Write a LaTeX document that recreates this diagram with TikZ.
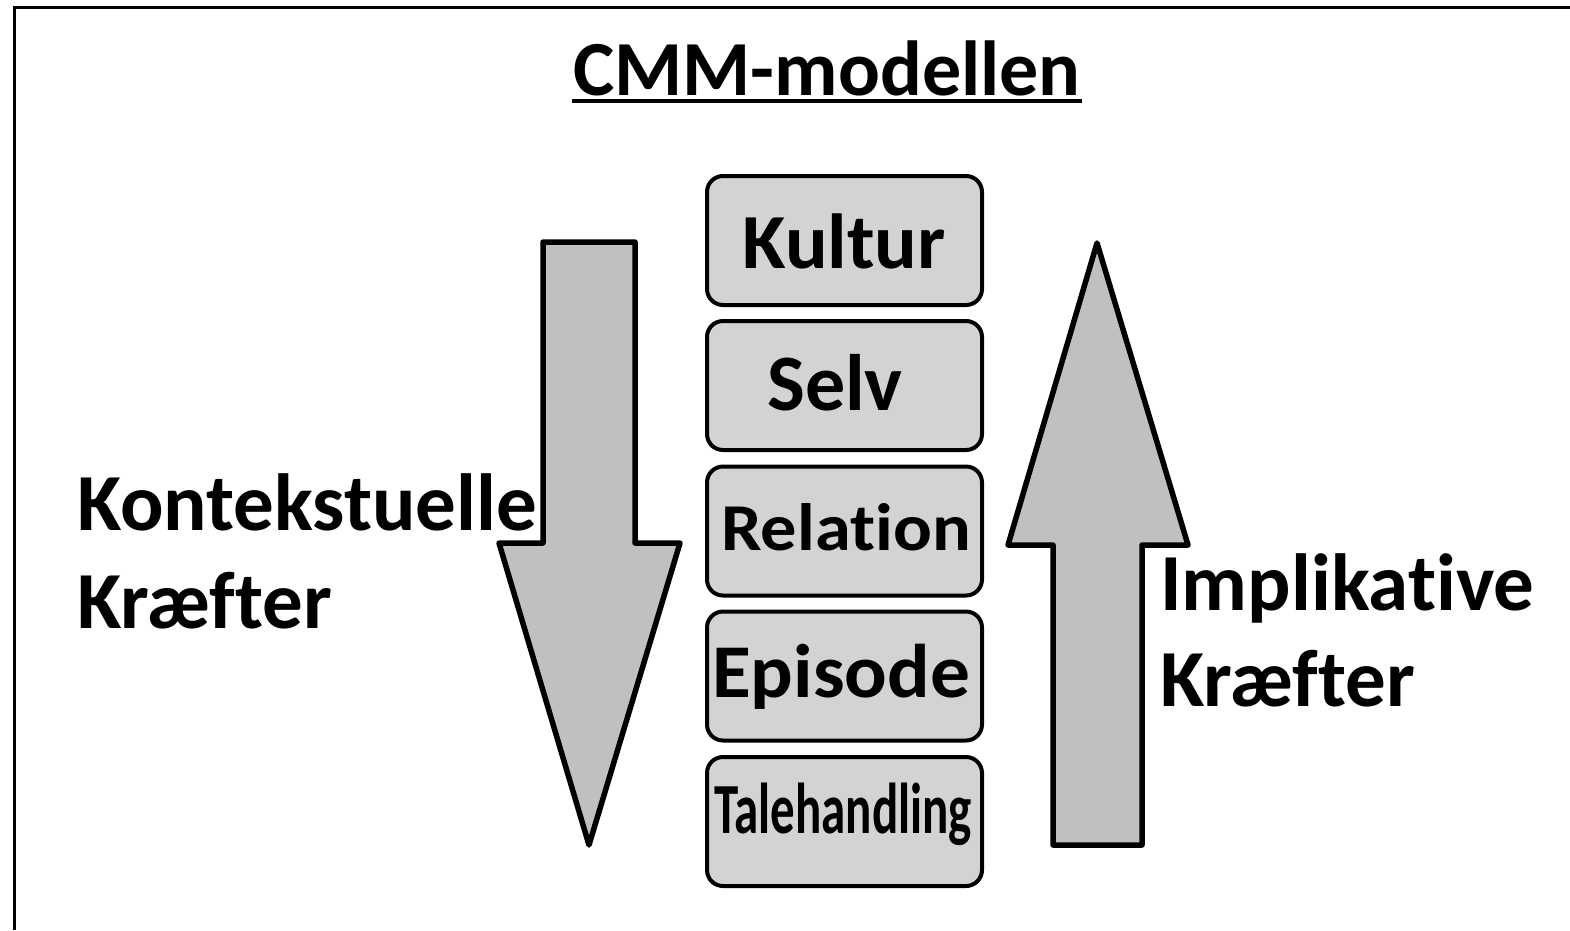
\documentclass[tikz,border=0pt]{standalone}
\usepackage{fontspec}
\setmainfont[Ligatures={NoCommon}]{Carlito}
\definecolor{boxgray}{RGB}{211,211,211}
\definecolor{arrowgray}{RGB}{192,192,192}
\begin{document}
\begin{tikzpicture}[x=1pt,y=-1pt,
  box/.style={draw, line width=4pt, rounded corners=16pt, fill=boxgray,
    minimum width=275pt, minimum height=129pt, inner sep=0pt},
  bigarrow/.style={draw, line width=5.5pt, line join=round, fill=arrowgray},
  lbl/.style={inner sep=0pt, font=\fontsize{78}{80}\selectfont\bfseries},
  sidelbl/.style={inner sep=0pt, anchor=base west, font=\fontsize{81}{83}\selectfont\bfseries},
  boxtext/.style={inner sep=0pt, anchor=base}]
\useasboundingbox (0,0) rectangle (1570,930);
\fill[white] (0,0) rectangle (1570,930);
\draw[line width=3.5pt] (14.5,930) -- (14.5,7.5) -- (1570,7.5);

% title
\node[lbl, anchor=base] (title) at (827,95) {CMM-modellen};
\draw[line width=4pt] (572,101) -- (1082,101);

% arrows
\draw[bigarrow] (543,242) -- (635,242) -- (635,543) -- (680,543) -- (589,845) -- (499,543) -- (543,543) -- cycle;
\draw[bigarrow] (1097,243) -- (1188,545) -- (1142,545) -- (1142,845) -- (1053,845) -- (1053,545) -- (1008,545) -- cycle;

% boxes
\node[box] (kultur) at (844.5,240.5) {};
\node[box] (selv) at (844.5,385.5) {};
\node[box] (relation) at (844.5,531) {};
\node[box] (episode) at (844.5,676) {};
\node[box] (tale) at (844.5,821.5) {};

\node[boxtext, font=\fontsize{78}{80}\selectfont\bfseries] (tkultur) at (844,268) {\scalebox{1.02}[1]{Kultur}};
\node[boxtext, font=\fontsize{80}{82}\selectfont\bfseries] (tselv) at (835,410) {Selv};
\node[boxtext, font=\fontsize{67}{70}\selectfont\bfseries] (trelation) at (846,550) {\scalebox{1.08}[1]{Relation}};
\node[boxtext, font=\fontsize{76}{78}\selectfont\bfseries] (tepisode) at (841,697) {\scalebox{1.045}[1]{Episode}};
\node[boxtext, font=\fontsize{72}{74}\selectfont\bfseries] (ttale) at (843,833) {\scalebox{0.68}[1]{Talehandling}};

% side labels
\node[sidelbl] (kon1) at (77,530) {Kontekstuelle};
\node[sidelbl] (kon2) at (77,628) {Kræfter};
\node[sidelbl] (imp1) at (1160,610) {Implikative};
\node[sidelbl] (imp2) at (1160,706) {Kræfter};
\end{tikzpicture}
\end{document}
